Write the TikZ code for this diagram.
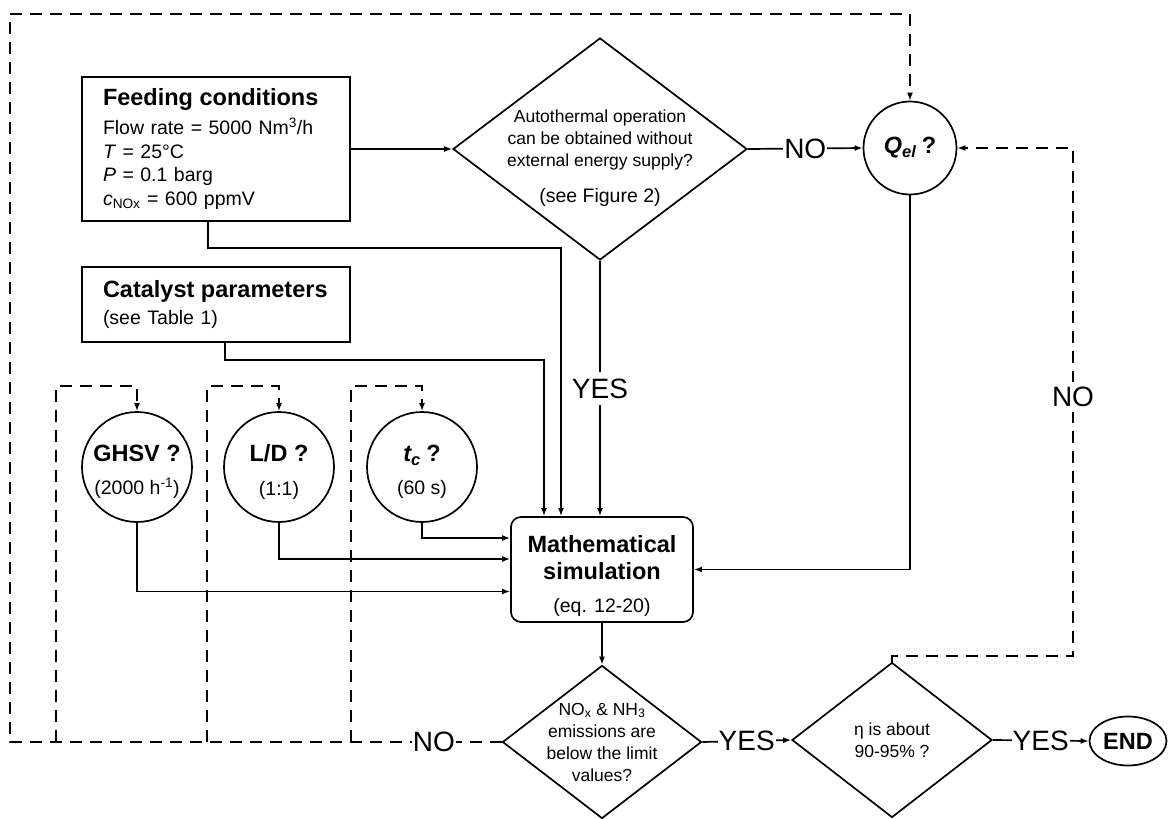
\documentclass[tikz,border=0pt]{standalone}
\usepackage{fontspec}
\setmainfont{Liberation Sans}
\usetikzlibrary{shapes.geometric,arrows.meta}

\newcommand{\bodysize}{\fontsize{19.5}{23.5}\selectfont}
\newcommand{\smallsize}{\fontsize{17.5}{22}\selectfont}
\newcommand{\headsize}{\fontsize{23.5}{27}\selectfont\bfseries}

\begin{document}
\begin{tikzpicture}[
        x=1pt, y=-1pt,
        line width=1.7pt,
        >={Latex[length=8pt,width=6pt]},
        box/.style={draw, rectangle, minimum width=268pt, text width=226pt,
            inner xsep=21pt, align=left, font=\bodysize},
        param/.style={draw, circle, minimum size=110pt, inner sep=0pt},
        ptext/.style={align=center, font=\bodysize},
        decision/.style={draw, diamond, inner sep=0pt},
        qtext/.style={align=center, font=\smallsize},
        lbl/.style={fill=white, inner sep=1pt, font=\fontsize{28}{30}\selectfont},
        loopline/.style={->, dash pattern=on 12pt off 8pt}
    ]

    \useasboundingbox (0,0) rectangle (1168,819);

    \node[box, minimum height=144pt] (feed) at (216,149)
        {{\headsize Feeding conditions}\\[6pt]
        Flow rate = 5000 Nm\textsuperscript{3}/h\\
        \textit{T} = 25°C\\
        \textit{P} = 0.1 barg\\
        \textit{c}\textsubscript{NOx} = 600 ppmV};
    \node[box, minimum height=75pt] (cat) at (216,304.5)
        {{\headsize Catalyst parameters}\\[3pt] (see Table 1)};

    \node[decision, minimum width=294pt, minimum height=222pt] (auto) at (600,149) {};
    \node[qtext] (autotext) at ([yshift=-9pt]auto.center)
        {Autothermal operation\\ can be obtained without\\ external energy supply?\\[14pt]
        {\bodysize (see Figure 2)}};

    \node[param, minimum size=93pt] (qel) at (910,148) {};
    \node[ptext] (qeltext) at (qel.center) {{\headsize\itshape Q\textsubscript{el}} {\headsize ?}};

    \node[param] (ghsv) at (137,467) {};
    \node[param] (ld) at (279,467) {};
    \node[param] (tc) at (422,467) {};
    \node[ptext] (ghsvtext) at ([yshift=-5pt]ghsv.center) {{\headsize GHSV ?}\\[10pt] (2000 h\textsuperscript{-1})};
    \node[ptext] (ldtext) at ([yshift=-5pt]ld.center) {{\headsize L/D ?}\\[10pt] (1:1)};
    \node[ptext] (tctext) at ([yshift=-5pt]tc.center) {{\headsize\itshape t\textsubscript{c}} {\headsize ?}\\[10pt] (60 s)};

    \node[draw, rounded corners=10pt, minimum width=182pt, minimum height=105pt] (math) at (602,569.5) {};
    \node[ptext] (mathtext) at ([yshift=-7pt]math.center)
        {{\headsize Mathematical}\\[3pt] {\headsize simulation}\\[10pt] (eq. 12-20)};

    \node[decision, minimum width=199pt, minimum height=153pt] (emis) at (602,742) {};
    \node[qtext] (emistext) at (emis.center)
        {NO\textsubscript{x} \& NH\textsubscript{3}\\ emissions are\\ below the limit\\ values?};

    \node[decision, minimum width=200pt, minimum height=155pt] (eta) at (892,740) {};
    \node[qtext] (etatext) at (eta.center) {η is about\\ 90-95\% ?};

    \node[draw, ellipse, minimum width=77pt, minimum height=49pt, inner sep=0pt,
        font=\headsize] (end) at (1128,741) {END};

    \draw[->] (feed.east) -- (auto.west);
    \draw[->] (auto.east) -- node[lbl] {NO} (qel.west);
    \draw[->] (auto.south) -- node[lbl, inner ysep=7pt] {YES} (auto.south |- math.north);
    \draw[->] ([xshift=-8pt]feed.south) -- ++(0,26) -| ([xshift=-41pt]math.north);
    \draw[->] ([xshift=9pt]cat.south) -- ++(0,17) -| ([xshift=-58pt]math.north);
    \draw[->] (qel.south) |- (math.east);
    \draw[->] (tc.south) |- ([yshift=31.5pt]math.west);
    \draw[->] (ld.south) |- ([yshift=10.5pt]math.west);
    \draw[->] (ghsv.south) |- ([yshift=-22pt]math.west);
    \draw[->] (math.south) -- (emis.north);
    \draw[->] (emis.east) -- node[lbl] {YES} (eta.west);
    \draw[->] (eta.east) -- node[lbl] {YES} (end.west);

    \coordinate (botleft) at (10,742);
    \coordinate (topleft) at (10,14);
    \coordinate (rbend) at (1073,656);
    \draw[loopline] (emis.west) -- node[lbl, pos=0.138] {NO} (botleft) -- (topleft) -| (qel.north);
    \draw[loopline] (eta.north) |- (rbend) -- node[lbl, pos=0.51, inner ysep=5pt] {NO} (rbend |- qel.east) -- (qel.east);
    \foreach \p/\x in {ghsv/56, ld/207, tc/351} {
        \coordinate (\p tap) at (\x,742);
        \draw[loopline] (\p tap) |- ([yshift=25pt]\p.north) -- (\p.north);
    }
\end{tikzpicture}
\end{document}
